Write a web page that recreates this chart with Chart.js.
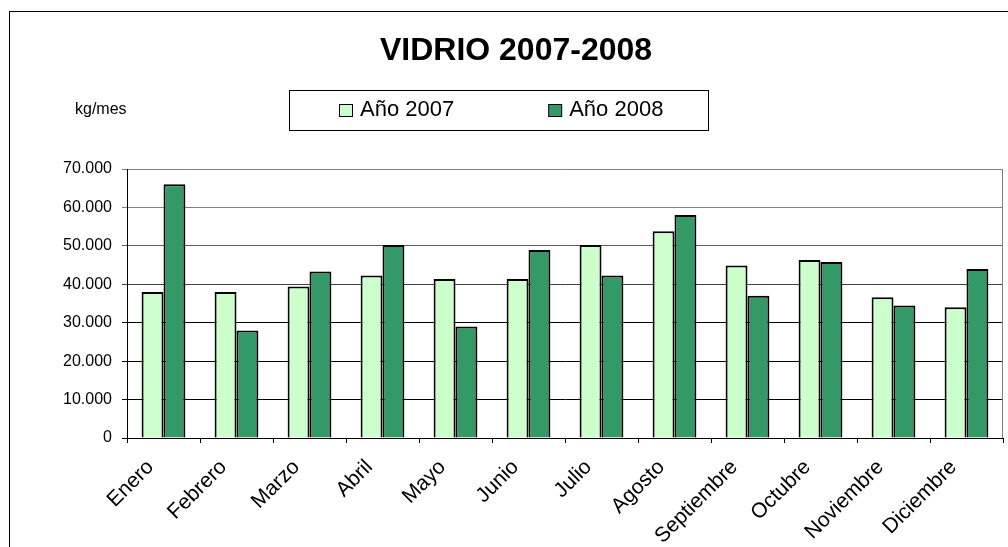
<!DOCTYPE html>
<html>
<head>
<meta charset="utf-8">
<script src="https://cdn.jsdelivr.net/npm/chart.js@4.4.1/dist/chart.umd.min.js"></script>
<style>
  html, body { margin: 0; padding: 0; background: #fff; }
  #wrap { position: relative; width: 1008px; height: 547px; overflow: hidden; background: #fff; }
  #frame { position: absolute; left: 9px; top: 11px; width: 1200px; height: 800px;
           border-left: 1px solid #000; border-top: 1px solid #000; }
  #c { position: absolute; left: 0; top: 0; }
</style>
</head>
<body>
<div id="wrap">
  <div id="frame"></div>
  <canvas id="c" width="1008" height="547"></canvas>
</div>
<script>
const months = ['Enero','Febrero','Marzo','Abril','Mayo','Junio','Julio','Agosto','Septiembre','Octubre','Noviembre','Diciembre'];
const values2007 = [38000, 38000, 39400, 42300, 41400, 41400, 50200, 53800, 44900, 46300, 36600, 34000];
const values2008 = [66000, 28000, 43300, 50200, 29000, 48900, 42300, 58000, 37000, 45800, 34500, 44000];
const seriesLabels = ['Año 2007', 'Año 2008'];
const chartTitle = 'VIDRIO 2007-2008';
const unitLabel = 'kg/mes';
const yMin = 0, yMax = 70000, yStep = 10000;

const FONT = "'Liberation Sans', Arial, sans-serif";

function fmt(v) {
  return String(v).replace(/\B(?=(\d{3})+(?!\d))/g, '.');
}

function gridColor(ctx) {
  const v = ctx.tick ? ctx.tick.value : 0;
  if (v >= 60000) return '#808080';
  if (v >= 50000) return '#606060';
  if (v >= 40000) return '#404040';
  return '#000000';
}

const decor = {
  id: 'decor',
  afterDraw(chart) {
    const c = chart.ctx;
    const a = chart.chartArea;
    c.save();
    // right border of plot area
    c.strokeStyle = '#808080';
    c.lineWidth = 1;
    c.beginPath();
    c.moveTo(Math.round(a.right) - 0.5, a.top);
    c.lineTo(Math.round(a.right) - 0.5, a.bottom);
    c.stroke();

    // title
    c.fillStyle = '#000';
    c.font = 'bold 32px ' + FONT;
    c.textAlign = 'center';
    c.textBaseline = 'alphabetic';
    c.fillText(chartTitle, chart.width / 2 + 12, 60);

    // unit label
    c.font = '16px ' + FONT;
    c.textAlign = 'left';
    c.fillText(unitLabel, 75, 114);

    // legend box
    const cx = chart.width / 2;
    const boxL = Math.round(cx - 215) + 0.5;
    c.strokeStyle = '#000';
    c.lineWidth = 1;
    c.strokeRect(boxL, 90.5, 419, 40);

    // legend items
    c.font = '22px ' + FONT;
    const ds = chart.data.datasets;
    const sq = 13, gapTxt = 8, gapItem = 94;
    const widths = ds.map(d => sq + gapTxt + c.measureText(d.label).width);
    const total = widths.reduce((s, w) => s + w, 0) + gapItem * (ds.length - 1);
    let x = Math.round(cx - 3 - total / 2);
    ds.forEach((d, i) => {
      c.fillStyle = d.backgroundColor;
      c.fillRect(x + 0.5, 104.5, sq, 12);
      c.strokeStyle = '#000';
      c.strokeRect(x + 0.5, 104.5, sq, 12);
      c.fillStyle = '#000';
      c.fillText(d.label, x + sq + gapTxt, 116);
      x += widths[i] + gapItem;
    });
    c.restore();
  }
};

new Chart(document.getElementById('c'), {
  type: 'bar',
  data: {
    labels: months,
    datasets: [
      { label: seriesLabels[0], data: values2007, backgroundColor: '#CCFFCC', borderColor: '#000',
        borderWidth: 2, categoryPercentage: 0.6, barPercentage: 1.0 },
      { label: seriesLabels[1], data: values2008, backgroundColor: '#339966', borderColor: '#000',
        borderWidth: 2, categoryPercentage: 0.6, barPercentage: 1.0 }
    ]
  },
  options: {
    responsive: false,
    animation: false,
    layout: { padding: { left: 0, right: 5, top: 169, bottom: 0 } },
    plugins: {
      legend: { display: false },
      tooltip: { enabled: false },
      title: { display: false }
    },
    scales: {
      x: {
        grid: { drawOnChartArea: false, drawTicks: true, tickLength: 5, color: '#000', offset: true },
        border: { display: true, color: '#000', width: 1 },
        ticks: {
          color: '#000', font: { family: FONT, size: 21 },
          minRotation: 45, maxRotation: 45, autoSkip: false, padding: 12, labelOffset: -13
        },
        afterFit(s) { s.height = 109; }
      },
      y: {
        min: yMin, max: yMax,
        grid: { color: gridColor, tickLength: 5, drawTicks: true },
        border: { display: true, color: '#000', width: 1 },
        ticks: {
          stepSize: yStep, color: '#000', font: { family: FONT, size: 16 }, padding: 10,
          callback: (v) => fmt(v)
        },
        afterFit(s) { s.width = 127; }
      }
    }
  },
  plugins: [decor]
});
</script>
</body>
</html>
